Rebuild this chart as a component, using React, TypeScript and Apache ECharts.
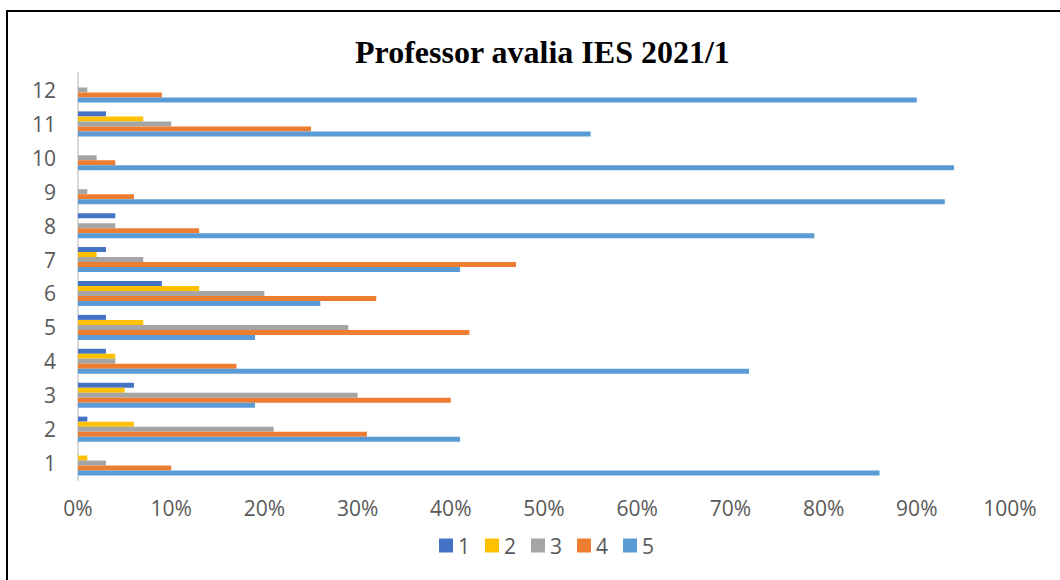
import React, { useEffect, useRef } from "react";
import * as echarts from "echarts";

const categories = ["1", "2", "3", "4", "5", "6", "7", "8", "9", "10", "11", "12"];
const seriesNames = ["1", "2", "3", "4", "5"];
const s1 = [0, 1, 6, 3, 3, 9, 3, 4, 0, 0, 3, 0];
const s2 = [1, 6, 5, 4, 7, 13, 2, 0, 0, 0, 7, 0];
const s3 = [3, 21, 30, 4, 29, 20, 7, 4, 1, 2, 10, 1];
const s4 = [10, 31, 40, 17, 42, 32, 47, 13, 6, 4, 25, 9];
const s5 = [86, 41, 19, 72, 19, 26, 41, 79, 93, 94, 55, 90];
const seriesValues = [s1, s2, s3, s4, s5];
const colors = ["#4472C4", "#FFC000", "#A5A5A5", "#ED7D31", "#5B9BD5"];
const titleText = "Professor avalia IES 2021/1";

const FONT = "'Open Sans', 'Noto Sans', sans-serif";

export default function App() {
  const ref = useRef<HTMLDivElement>(null);
  useEffect(() => {
    if (!ref.current) return;
    const chart = echarts.init(ref.current, null, { renderer: "svg" });
    chart.setOption({
      animation: false,
      backgroundColor: "#ffffff",
      color: colors,
      title: {
        text: titleText,
        left: 350,
        top: 31,
        textStyle: {
          fontFamily: "'Liberation Serif', 'Times New Roman', serif",
          fontWeight: "bold",
          fontSize: 32,
          color: "#000000",
        },
      },
      legend: {
        bottom: 19,
        left: 434,
        itemWidth: 14,
        itemHeight: 14,
        itemGap: 15,
        icon: "rect",
        textStyle: { fontFamily: FONT, fontSize: 21, color: "#595959" },
        data: seriesNames,
      },
      grid: { left: 78, right: 50, top: 73, bottom: 100, containLabel: false },
      xAxis: {
        type: "value",
        min: 0,
        max: 100,
        interval: 10,
        axisLabel: {
          formatter: (v: number) => `${v}%`,
          fontFamily: FONT,
          fontSize: 21,
          color: "#595959",
          margin: 17,
        },
        axisLine: { show: false },
        axisTick: { show: false },
        splitLine: { show: false },
      },
      yAxis: {
        type: "category",
        data: categories,
        axisLabel: { fontFamily: FONT, fontSize: 21, color: "#595959", margin: 22 },
        axisLine: { show: true, lineStyle: { color: "#D9D9D9", width: 2 } },
        axisTick: { show: false },
      },
      graphic: [
        {
          type: "polyline",
          shape: { points: [[7, 580], [7, 11], [1060, 11]] },
          style: { stroke: "#000000", lineWidth: 2, fill: "none" },
          silent: true,
        },
      ],
      series: seriesNames.map((name, i) => ({
        name,
        type: "bar",
        data: seriesValues[i],
        barWidth: 5,
        barGap: "0%",
        itemStyle: { color: colors[i] },
      })),
    });
    return () => chart.dispose();
  }, []);
  return (
    <div
      ref={ref}
      style={{ position: "fixed", left: 0, top: 0, width: 1060, height: 580 }}
    />
  );
}
